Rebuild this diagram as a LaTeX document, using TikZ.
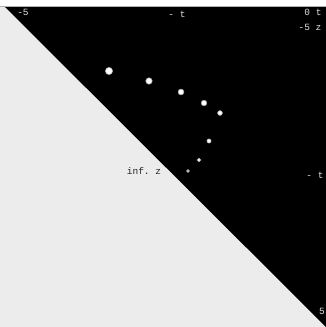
\documentclass[tikz,border=0pt]{standalone}
\usepackage{fontspec}
\setmonofont{Liberation Mono}
\usetikzlibrary{positioning}

\begin{document}
\begin{tikzpicture}[
  x=1pt, y=-1pt,
  lbl/.style={inner sep=0pt, font=\ttfamily\fontsize{9.5}{9.5}\selectfont, text=gray!25},
  dlbl/.style={lbl, text=black!85},
  spot/.style={fill=white, draw=gray!70, line width=0.6pt},
]
\useasboundingbox (0,0) rectangle (326,327);

%% backdrop: white strip, grey half, black half
\fill[white] (0,0) rectangle (326,7);
\draw[gray!60, line width=0.8pt] (0,6.5) -- (326,6.5);
\fill[gray!15] (0,7) -- (5,7) -- (326,327) -- (0,327) -- cycle;
\fill[black] (5,7) -- (326,7) -- (326,327) -- cycle;

%% trail of spots, shrinking towards the edge
\foreach \px/\py/\r in {109/71/3.6, 149/81/3.2, 181/92/2.9, 204/103/2.8,
                        220/113/2.4, 209/141/2.1, 199/160/1.8, 188/171/1.4}
  \fill[spot] (\px,\py) circle (\r);

%% axis labels
\node[lbl] (xmin)  at (23,12)   {-5};
\node[lbl] (tmid)  at (177,14)  {- t};
\node[lbl] (tzero) at (313,12)  {0 t};
\node[lbl] (zmin)  at (310,27)  {-5 z};
\node[lbl] (tside) at (315,175) {- t};
\node[lbl] (zmax)  at (322,311) {5};
\node[dlbl] (zinf) at (144,171) {inf. z};
\end{tikzpicture}
\end{document}
